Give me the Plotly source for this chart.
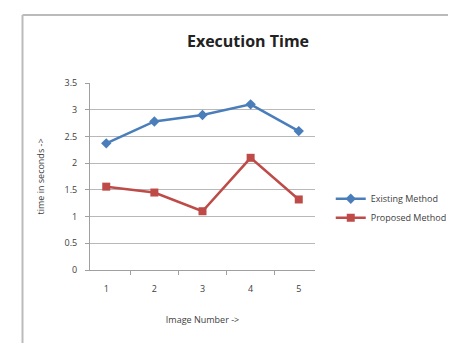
import plotly.graph_objects as go

images = ["1", "2", "3", "4", "5"]
existing = [2.37, 2.78, 2.9, 3.1, 2.6]
proposed = [1.56, 1.45, 1.1, 2.1, 1.32]
y_ticks = [0, 0.5, 1, 1.5, 2, 2.5, 3, 3.5]
y_tick_labels = ["0", "0.5", "1", "1.5", "2", "2.5", "3", "3.5"]

fig = go.Figure()
fig.add_trace(go.Scatter(x=images, y=existing, name="Existing Method", mode="lines+markers",
                         line=dict(color="#4A7EBB", width=2.5),
                         marker=dict(symbol="diamond", size=8, color="#4A7EBB")))
fig.add_trace(go.Scatter(x=images, y=proposed, name="Proposed Method", mode="lines+markers",
                         line=dict(color="#BE4B48", width=2.5),
                         marker=dict(symbol="square", size=8, color="#BE4B48")))

fig.update_layout(
    width=456, height=343,
    margin=dict(l=82, r=144, t=75, b=81),
    paper_bgcolor="white", plot_bgcolor="white",
    font=dict(family="Open Sans", color="#404040", size=9),
    title=dict(text="<b>Execution Time</b>", x=240/456, xanchor="center", y=1-33/343, yanchor="middle",
               font=dict(family="Open Sans", size=16, color="#222222")),
    legend=dict(x=1.07, y=0.33, xanchor="left", yanchor="middle", font=dict(size=9, color="#404040"),
                bgcolor="rgba(0,0,0,0)", tracegroupgap=12),
    showlegend=True,
    xaxis=dict(type="category", showgrid=False, showline=True, linecolor="#A0A0A0", linewidth=1,
               ticks="outside", ticklen=4, tickcolor="#A0A0A0", tickson="boundaries",
               ticklabelstandoff=10,
               title=dict(text="Image Number ->", font=dict(size=9, color="#404040"), standoff=22),
               tickfont=dict(size=9, color="#404040")),
    yaxis=dict(range=[0, 3.5], tickvals=y_ticks, ticktext=y_tick_labels, showgrid=True,
               gridcolor="#B8B8B8", gridwidth=1, showline=True, linecolor="#A0A0A0",
               ticks="outside", ticklen=4, tickcolor="#A0A0A0", zeroline=False,
               ticklabelstandoff=6,
               title=dict(text="time in seconds ->", font=dict(size=9, color="#404040"), standoff=18),
               tickfont=dict(size=9, color="#404040")),
)

# outer chart frame (left and top edges)
fig.add_shape(type="line", xref="paper", yref="paper", x0=(13-82)/230, x1=(13-82)/230,
              y0=(262-343)/187, y1=(262-7)/187, line=dict(color="#BBBBBB", width=2))
fig.add_shape(type="line", xref="paper", yref="paper", x0=(13-82)/230, x1=(456-82)/230,
              y0=(262-7)/187, y1=(262-7)/187, line=dict(color="#BBBBBB", width=2))

fig.write_html("out.html")
